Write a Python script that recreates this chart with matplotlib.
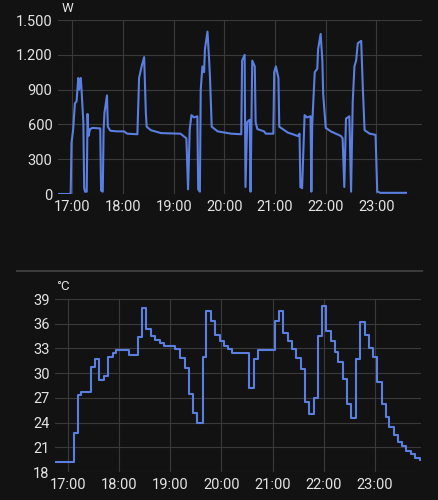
import matplotlib.pyplot as plt
from matplotlib.lines import Line2D

# minutes after 17:00
p_min = [-17, -2, -1, 1, 3, 5, 7, 8, 10, 11, 13, 14, 15, 17, 18, 19, 21, 24, 33, 34, 36, 37, 38, 41, 42, 45,
         53, 61, 65, 77, 79, 82, 85, 87, 88, 93, 105, 128, 135, 137, 139, 141, 144, 148, 149, 151, 152, 154,
         156, 157, 160, 162, 163, 165, 172, 188, 200, 201, 204, 205, 207, 210, 211, 213, 216, 217, 219, 227,
         229, 238, 239, 241, 244, 245, 255, 267, 269, 270, 272, 275, 278, 282, 283, 284, 287, 290, 291, 294,
         296, 297, 300, 306, 318, 320, 322, 324, 328, 330, 332, 334, 336, 338, 342, 344, 346, 352, 359, 361,
         365, 395]
p_w = [0, 0, 440, 560, 780, 800, 1000, 900, 1000, 880, 620, 50, 20, 20, 690, 500, 560, 570, 565, 30, 20, 550,
       700, 850, 580, 545, 540, 540, 520, 515, 1000, 1100, 1180, 700, 580, 550, 525, 520, 480, 40, 560, 680,
       660, 670, 40, 20, 900, 1100, 1050, 1250, 1400, 1150, 1000, 580, 540, 520, 515, 1150, 1200, 60, 620,
       640, 20, 1150, 1100, 620, 560, 540, 520, 520, 1050, 1100, 1000, 580, 530, 500, 520, 60, 50, 680, 660,
       670, 20, 600, 1050, 1080, 1250, 1380, 1150, 860, 570, 540, 500, 480, 60, 650, 670, 20, 800, 1100,
       1150, 1300, 1320, 900, 550, 520, 510, 20, 10, 10]

t_min = [-16, 7, 12, 16, 27, 32, 36, 42, 47, 53, 57, 72, 82, 87, 92, 98, 102, 108, 113, 126, 131, 137, 142,
         147, 152, 158, 162, 168, 173, 178, 183, 188, 193, 212, 218, 223, 243, 247, 252, 258, 263, 268, 273,
         278, 283, 288, 293, 298, 303, 308, 313, 317, 323, 327, 332, 338, 343, 348, 353, 358, 363, 368, 373,
         377, 382, 387, 392, 397, 402, 407, 413]
t_c = [19.2, 22.7, 27.3, 27.7, 30.7, 31.7, 29.2, 29.7, 32.0, 32.4, 32.8, 32.2, 34.4, 37.9, 35.4, 34.5, 34.0,
       33.6, 33.3, 32.9, 31.8, 30.6, 27.5, 25.2, 23.9, 32.0, 37.6, 36.3, 34.6, 33.9, 33.3, 32.9, 32.5, 28.2,
       31.7, 32.8, 36.3, 37.5, 34.9, 33.9, 32.9, 31.8, 30.5, 26.5, 25.1, 27.0, 34.5, 38.2, 35.1, 33.9, 32.6,
       31.3, 29.3, 26.3, 24.5, 31.7, 36.2, 34.6, 33.0, 32.0, 28.9, 26.2, 24.7, 23.5, 22.5, 21.7, 21.1, 20.6,
       20.2, 19.7, 19.4]

tick_min = [0, 60, 120, 180, 240, 300, 360]
tick_lab = ["17:00", "18:00", "19:00", "20:00", "21:00", "22:00", "23:00"]
w_ticks = [0, 300, 600, 900, 1200, 1500]
w_lab = ["0", "300", "600", "900", "1.200", "1.500"]
c_ticks = [18, 21, 24, 27, 30, 33, 36, 39]

bg = "#121212"
fg = "#e3e3e3"
blue = "#5b7fe0"
plt.rcParams['font.family'] = ['Roboto', 'DejaVu Sans']

fig = plt.figure(figsize=(4.39, 5), dpi=100, facecolor=bg)
ax1 = fig.add_axes([58/439, 0.612, 364/439, 0.348])
ax2 = fig.add_axes([55/439, 0.056, 366/439, 0.346])

def style(ax):
    ax.set_facecolor(bg)
    for s in ax.spines.values():
        s.set_visible(False)
    ax.grid(True, color="#3a3a3a", lw=0.8)
    ax.tick_params(colors=fg, labelsize=10.5, length=0, pad=4)
    ax.set_xticks(tick_min, tick_lab)

style(ax1)
ax1.plot(p_min, p_w, color=blue, lw=1.5)
ax1.set_xlim(-17, 414)
ax1.set_ylim(0, 1500)
ax1.set_yticks(w_ticks, w_lab)
fig.text(62/439, 1 - 8/500, "W", color=fg, fontsize=9.5, va="center")

style(ax2)
ax2.plot(t_min, t_c, color=blue, lw=1.5, drawstyle="steps-post")
ax2.set_xlim(-15, 414)
ax2.set_ylim(18, 39)
ax2.set_yticks(c_ticks)
fig.text(56/439, 1 - 287/500, "°C", color=fg, fontsize=9.5, va="center")

fig.add_artist(Line2D([17/439, 422/439], [1 - 271/500] * 2, color="#3a3a3a", lw=1.5))

fig.savefig("out.png", facecolor=bg)
